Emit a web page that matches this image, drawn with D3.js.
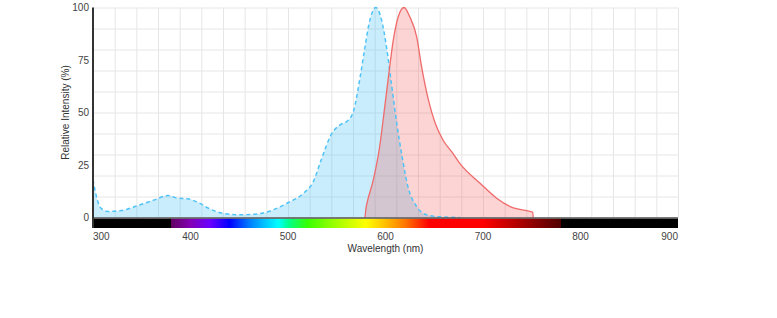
<!DOCTYPE html>
<html>
<head>
<meta charset="utf-8">
<script src="https://cdn.jsdelivr.net/npm/d3@7"></script>
<style>
  body { margin: 0; background: #fff; }
  text { font-family: "Liberation Sans", Arial, sans-serif; }
</style>
</head>
<body>
<svg id="chart"></svg>
<script>
// excitation spectrum (blue, dashed)
const excitationNm = [300, 303, 308, 315, 329, 346, 363, 377, 387, 397, 408, 418, 432, 449, 466, 476, 485, 499, 516, 526, 534, 545, 553, 562, 567, 574, 579, 583, 590, 596, 601, 606, 611.5, 617, 623, 632, 642, 656, 676];
const excitationVal = [18, 11, 4.5, 2.9, 3.3, 5.7, 8.4, 10.5, 9.2, 8.9, 7.1, 4.5, 2.1, 1.3, 1.6, 2.3, 3.7, 6.8, 11.6, 17.1, 27.4, 40.1, 44, 46.4, 50.4, 67, 81.3, 92, 100, 94, 81.3, 64, 45, 29, 14.7, 5.2, 1.3, 0.3, 0];

// emission spectrum (red, solid)
const emissionNm = [579, 580, 581, 587.5, 594, 598, 603, 608, 613, 619, 625, 632, 637, 644, 651, 659, 669, 676, 697, 714, 728, 748, 751, 751.5];
const emissionVal = [0, 4.5, 6.8, 17.9, 33.7, 48, 67, 84.5, 95.5, 100, 95.5, 86, 71.8, 56, 44.9, 36.9, 30.6, 25.9, 16.3, 9.2, 5.2, 2.9, 2.5, 0];

const xTicks = [300, 400, 500, 600, 700, 800, 900];
const yTicks = [0, 25, 50, 75, 100];

// colour bar under the axis
const spectrumNm = [300, 379.9, 380, 400, 420, 440, 460, 480, 490, 500, 520, 540, 560, 580, 600, 620, 645, 700, 780, 780.1, 900];
const spectrumColor = ["#000", "#000", "#610061", "#8300b5", "#6a00ff", "#0000ff", "#007bff", "#00d5ff", "#00ffff", "#00ff92", "#36ff00", "#81ff00", "#c3ff00", "#ffff00", "#ffbe00", "#ff7700", "#ff0000", "#ff0000", "#500000", "#000", "#000"];

const width = 777, height = 318;
const margin = { top: 7.5, left: 93, right: 99 };
const plotH = 210;
const innerW = width - margin.left - margin.right;

const svg = d3.select("#chart").attr("width", width).attr("height", height);
const g = svg.append("g").attr("transform", `translate(${margin.left},${margin.top})`);

const x = d3.scaleLinear().domain([300, 900]).range([0, innerW]);
const y = d3.scaleLinear().domain([0, 100]).range([plotH, 0]);

//grid
g.append("g").selectAll("line")
    .data(d3.range(0, 28))
    .join("line")
    .attr("x1", d => x(300 + d * 600 / 27) + 0.5)
    .attr("x2", d => x(300 + d * 600 / 27) + 0.5)
    .attr("y1", 0).attr("y2", plotH)
    .attr("stroke", "#e6e6e6");
g.append("g").selectAll("line")
    .data(d3.range(0, 101, 10))
    .join("line")
    .attr("x1", 0).attr("x2", innerW)
    .attr("y1", d => y(d) + 0.5).attr("y2", d => y(d) + 0.5)
    .attr("stroke", "#e6e6e6");

//areas
const exc = excitationNm.map((n, i) => [n, excitationVal[i]]);
const emi = emissionNm.map((n, i) => [n, emissionVal[i]]);
const area = d3.area().x(d => x(d[0])).y0(y(0)).y1(d => y(d[1])).curve(d3.curveMonotoneX);
const line = d3.line().x(d => x(d[0])).y(d => y(d[1])).curve(d3.curveMonotoneX);

g.append("path").attr("d", area(exc)).attr("fill", "#4fc3f7").attr("fill-opacity", 0.3);
g.append("path").attr("d", area(emi)).attr("fill", "#ef5350").attr("fill-opacity", 0.25);
g.append("path").attr("d", line(exc)).attr("fill", "none")
    .attr("stroke", "#4fc3f7").attr("stroke-width", 1.5).attr("stroke-dasharray", "4,3");
g.append("path").attr("d", line(emi)).attr("fill", "none")
    .attr("stroke", "#ef6b6b").attr("stroke-width", 1.3);

//spectrum bar
const grad = svg.append("defs").append("linearGradient").attr("id", "spec")
    .attr("x1", "0%").attr("x2", "100%");
grad.selectAll("stop")
    .data(spectrumNm)
    .join("stop")
    .attr("offset", d => ((d - 300) / 600 * 100) + "%")
    .attr("stop-color", (d, i) => spectrumColor[i]);
g.append("rect").attr("x", 0).attr("y", plotH + 1).attr("width", innerW).attr("height", 9.5)
    .attr("fill", "url(#spec)");

//axes lines
g.append("line").attr("x1", 0).attr("x2", innerW).attr("y1", plotH + 0.5).attr("y2", plotH + 0.5)
    .attr("stroke", "#555").attr("stroke-width", 1.5);
g.append("line").attr("x1", 0).attr("x2", 0).attr("y1", 0).attr("y2", plotH + 10.5)
    .attr("stroke", "#333").attr("stroke-width", 2);

//tick labels
g.selectAll("text.xt")
    .data(xTicks)
    .join("text")
    .attr("class", "xt")
    .attr("x", d => x(d))
    .attr("y", plotH + 22)
    .attr("text-anchor", (d, i) => i === 0 ? "start" : i === xTicks.length - 1 ? "end" : "middle")
    .style("font-size", "10px").style("fill", "#444")
    .text(d => d);

g.selectAll("text.yt")
    .data(yTicks)
    .join("text")
    .attr("class", "yt")
    .attr("x", -4)
    .attr("y", d => y(d) + 3.5)
    .attr("text-anchor", "end")
    .style("font-size", "10px").style("fill", "#444")
    .text(d => d);

//axis titles
g.append("text")
    .attr("x", x(600)).attr("y", plotH + 34)
    .attr("text-anchor", "middle")
    .style("font-size", "10px").style("fill", "#333")
    .text("Wavelength (nm)");
g.append("text")
    .attr("transform", `translate(-24,${plotH / 2}) rotate(-90)`)
    .attr("text-anchor", "middle")
    .style("font-size", "10px").style("fill", "#333")
    .text("Relative Intensity (%)");
</script>
</body>
</html>
